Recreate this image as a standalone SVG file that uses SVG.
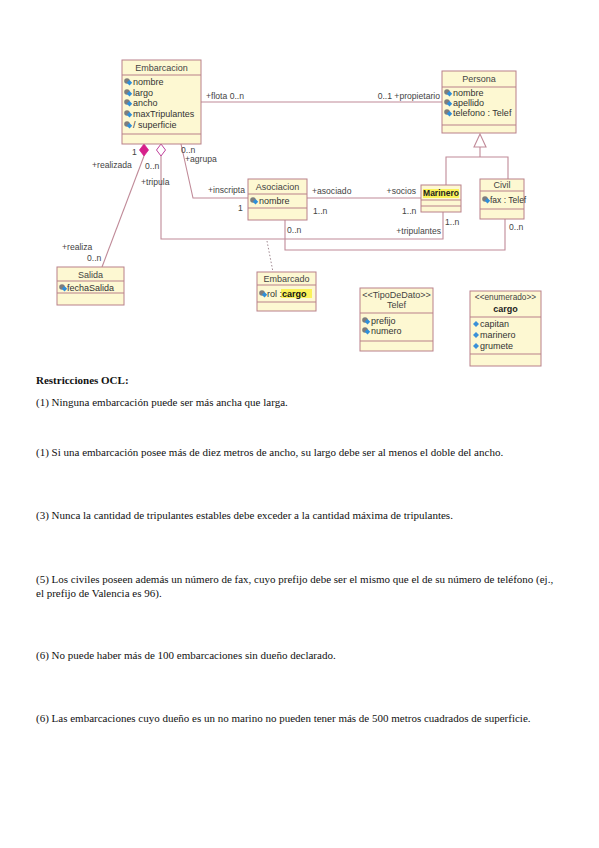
<svg xmlns="http://www.w3.org/2000/svg" xmlns:xlink="http://www.w3.org/1999/xlink" width="599" height="848" viewBox="0 0 599 848">
<style>
.box{fill:#fdf8d2;stroke:#b9808a;stroke-width:1}
.sep{stroke:#b9808a;stroke-width:1}
.t{font-family:"Liberation Sans",Arial,sans-serif;font-size:9px;fill:#333}
.h{font-family:"Liberation Sans",Arial,sans-serif;font-size:9px;fill:#444;text-anchor:middle}
.l{font-family:"Liberation Sans",Arial,sans-serif;font-size:8.6px;fill:#444}
.c{fill:none;stroke:#c08a98;stroke-width:1.1}
.p{font-family:"Liberation Serif","Times New Roman",serif;font-size:11px;fill:#111}
</style>
<defs>
<g id="ic"><circle cx="3" cy="-4" r="2.8" fill="#7d7d7d"/><path d="M5.5 -5 l2.7 2.7 -2.7 2.7 -2.7 -2.7z" fill="#2f8fd8"/></g>
<path id="en" d="M3 -6 l3 3 -3 3 -3 -3z" fill="#3a90d8"/>
</defs>
<rect width="599" height="848" fill="#ffffff"/>

<g id="connectors">
<line class="c" x1="201" y1="102" x2="442" y2="102"/>
<polygon points="480,134 474,147 486,147" fill="#fff" stroke="#c08a98" stroke-width="1.1"/>
<polyline class="c" points="480,147 480,157"/>
<polyline class="c" points="446,185 446,157 508,157 508,179"/>
<line class="c" x1="144" y1="156" x2="102" y2="267"/>
<polygon points="144,144 148.5,150 144,156 139.5,150" fill="#d6208a" stroke="#d6208a" stroke-width="0.8"/>
<polyline class="c" points="161,156 161,239 443,239 443,212"/>
<polygon points="161,144 165.5,150 161,156 156.5,150" fill="#fff" stroke="#c0409a" stroke-width="1"/>
<polyline class="c" points="181,144 193,198 248,198"/>
<line class="c" x1="307" y1="198" x2="421" y2="198"/>
<polyline class="c" points="505,219 505,250 285,250 285,220"/>
<line x1="267" y1="241" x2="273" y2="272" stroke="#a08890" stroke-width="1" stroke-dasharray="1.5,2"/>
<text class="l" x="206" y="99">+flota  0..n</text>
<text class="l" x="440" y="99" text-anchor="end">0..1 +propietario</text>
<text class="l" x="132" y="155">1</text>
<text class="l" x="92" y="168">+realizada</text>
<text class="l" x="145" y="169">0..n</text>
<text class="l" x="141" y="185">+tripula</text>
<text class="l" x="181" y="153">0..n</text>
<text class="l" x="185" y="162">+agrupa</text>
<text class="l" x="245" y="193" text-anchor="end">+inscripta</text>
<text class="l" x="238" y="211">1</text>
<text class="l" x="62" y="250">+realiza</text>
<text class="l" x="87" y="261">0..n</text>
<text class="l" x="312" y="194">+asociado</text>
<text class="l" x="313" y="214">1..n</text>
<text class="l" x="416" y="194" text-anchor="end">+socios</text>
<text class="l" x="402" y="214">1..n</text>
<text class="l" x="287" y="233">0..n</text>
<text class="l" x="441" y="234" text-anchor="end">+tripulantes</text>
<text class="l" x="445" y="225">1..n</text>
<text class="l" x="509" y="230">0..n</text>
</g>

<g id="Embarcacion">
<rect class="box" x="122" y="60" width="79" height="84"/>
<line class="sep" x1="122" y1="75" x2="201" y2="75"/>
<line class="sep" x1="122" y1="134" x2="201" y2="134"/>
<text class="h" x="161.5" y="71">Embarcacion</text>
<use href="#ic" x="124" y="85"/><text class="t" x="133" y="85">nombre</text>
<use href="#ic" x="124" y="96"/><text class="t" x="133" y="96">largo</text>
<use href="#ic" x="124" y="106"/><text class="t" x="133" y="106">ancho</text>
<use href="#ic" x="124" y="117"/><text class="t" x="133" y="117">maxTripulantes</text>
<use href="#ic" x="124" y="128"/><text class="t" x="133" y="128">/ superficie</text>
</g>

<g id="Persona">
<rect class="box" x="442" y="71" width="74" height="62"/>
<line class="sep" x1="442" y1="87" x2="516" y2="87"/>
<line class="sep" x1="442" y1="125" x2="516" y2="125"/>
<text class="h" x="479" y="82">Persona</text>
<use href="#ic" x="444" y="96"/><text class="t" x="453" y="96">nombre</text>
<use href="#ic" x="444" y="106"/><text class="t" x="453" y="106">apellido</text>
<use href="#ic" x="444" y="116"/><text class="t" x="453" y="116">telefono : Telef</text>
</g>

<g id="Marinero">
<rect class="box" x="421" y="185" width="40" height="27"/>
<line class="sep" x1="421" y1="200" x2="461" y2="200"/>
<line class="sep" x1="421" y1="206" x2="461" y2="206"/>
<rect x="423" y="189" width="36" height="9" fill="#fbf25a"/>
<text class="h" x="441" y="196" font-weight="bold" style="fill:#222;font-size:8.5px">Marinero</text>
</g>

<g id="Civil">
<rect class="box" x="480" y="179" width="44" height="40"/>
<line class="sep" x1="480" y1="191" x2="524" y2="191"/>
<line class="sep" x1="480" y1="209" x2="524" y2="209"/>
<text class="h" x="502" y="188">Civil</text>
<use href="#ic" x="482" y="203"/><text class="t" x="490" y="203" style="font-size:8.5px">fax : Telef</text>
</g>

<g id="Asociacion">
<rect class="box" x="248" y="179" width="59" height="41"/>
<line class="sep" x1="248" y1="194" x2="307" y2="194"/>
<line class="sep" x1="248" y1="208" x2="307" y2="208"/>
<text class="h" x="277.5" y="190">Asociacion</text>
<use href="#ic" x="250" y="204"/><text class="t" x="259" y="204">nombre</text>
</g>

<g id="Salida">
<rect class="box" x="57" y="267" width="67" height="38"/>
<line class="sep" x1="57" y1="281" x2="124" y2="281"/>
<line class="sep" x1="57" y1="293" x2="124" y2="293"/>
<text class="h" x="90.5" y="278">Salida</text>
<use href="#ic" x="59" y="291"/><text class="t" x="67" y="291">fechaSalida</text>
</g>

<g id="Embarcado">
<rect class="box" x="257" y="272" width="59" height="39"/>
<line class="sep" x1="257" y1="285" x2="316" y2="285"/>
<line class="sep" x1="257" y1="302" x2="316" y2="302"/>
<text class="h" x="286.5" y="282">Embarcado</text>
<rect x="281" y="289" width="31" height="9" fill="#fbf25a"/>
<use href="#ic" x="259" y="297"/><text class="t" x="267" y="297">rol :<tspan font-weight="bold" style="fill:#111">cargo</tspan></text>
</g>

<g id="Telef">
<rect class="box" x="360" y="288" width="73" height="63"/>
<line class="sep" x1="360" y1="313" x2="433" y2="313"/>
<line class="sep" x1="360" y1="341" x2="433" y2="341"/>
<text class="h" x="396.5" y="298">&lt;&lt;TipoDeDato&gt;&gt;</text>
<text class="h" x="396.5" y="308">Telef</text>
<use href="#ic" x="362" y="324"/><text class="t" x="371" y="324">prefijo</text>
<use href="#ic" x="362" y="334"/><text class="t" x="371" y="334">numero</text>
</g>

<g id="cargo">
<rect class="box" x="470" y="291" width="71" height="75"/>
<line class="sep" x1="470" y1="317" x2="541" y2="317"/>
<line class="sep" x1="470" y1="354" x2="541" y2="354"/>
<text class="h" x="505.5" y="300" style="font-size:8.3px">&lt;&lt;enumerado&gt;&gt;</text>
<text class="h" x="505.5" y="312" font-weight="bold" style="fill:#222">cargo</text>
<use href="#en" x="473" y="327"/><text class="t" x="480" y="327">capitan</text>
<use href="#en" x="473" y="338"/><text class="t" x="480" y="338">marinero</text>
<use href="#en" x="473" y="349"/><text class="t" x="480" y="349">grumete</text>
</g>

<g id="ocl">
<text class="p" x="36" y="384" font-weight="bold">Restricciones OCL:</text>
<text class="p" x="36" y="406">(1) Ninguna embarcación puede ser más ancha que larga.</text>
<text class="p" x="36" y="456">(1) Si una embarcación posee más de diez metros de ancho, su largo debe ser al menos el doble del ancho.</text>
<text class="p" x="36" y="519">(3) Nunca la cantidad de tripulantes estables debe exceder a la cantidad máxima de tripulantes.</text>
<text class="p" x="36" y="583">(5) Los civiles poseen además un número de fax, cuyo prefijo debe ser el mismo que el de su número de teléfono (ej.,</text>
<text class="p" x="36" y="597">el prefijo de Valencia es 96).</text>
<text class="p" x="36" y="659">(6) No puede haber más de 100 embarcaciones sin dueño declarado.</text>
<text class="p" x="36" y="722">(6) Las embarcaciones cuyo dueño es un no marino no pueden tener más de 500 metros cuadrados de superficie.</text>
</g>
</svg>
